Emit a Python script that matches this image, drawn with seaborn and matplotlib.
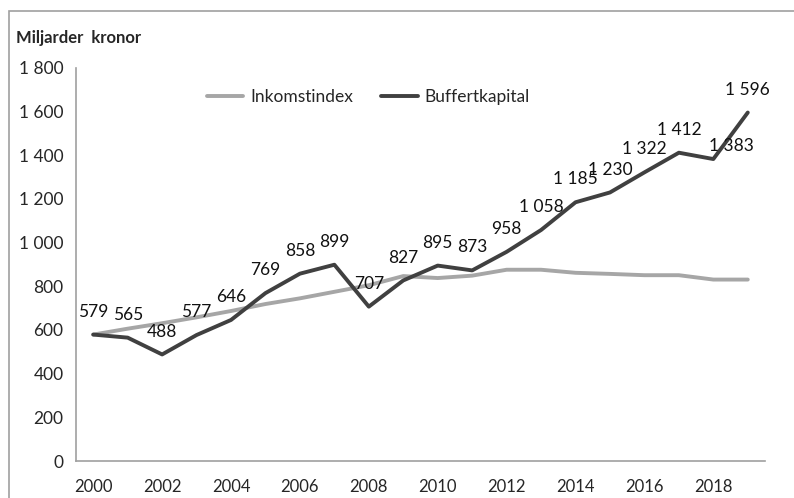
import numpy as np
import pandas as pd
import matplotlib
matplotlib.use("Agg")
import matplotlib.pyplot as plt
import seaborn as sns
from matplotlib.patches import Rectangle
from matplotlib.lines import Line2D
from matplotlib.ticker import FuncFormatter

# Dane
years = list(range(2000, 2020))
buffertkapital = [579, 565, 488, 577, 646, 769, 858, 899, 707, 827,
                  895, 873, 958, 1058, 1185, 1230, 1322, 1412, 1383, 1596]
inkomstindex = [579, 606, 631, 658, 687, 719, 745, 775, 805, 847,
                838, 849, 876, 876, 862, 857, 851, 851, 831, 831]
series_names = ["Inkomstindex", "Buffertkapital"]
y_ticks = [0, 200, 400, 600, 800, 1000, 1200, 1400, 1600, 1800]

df = pd.DataFrame({
    "idx": list(range(len(years))) * 2,
    "value": inkomstindex + buffertkapital,
    "serie": [series_names[0]] * len(years) + [series_names[1]] * len(years),
})

sns.set_style("white")
plt.rcParams["font.family"] = ["Lato", "DejaVu Sans"]


def sv(v, pos=None):
    return f"{int(v):,}".replace(",", " ")


fig = plt.figure(figsize=(7.94, 4.98), dpi=100)
ax = fig.add_axes([76 / 794, 37 / 498, 689 / 794, 393 / 498])

sns.lineplot(data=df, x="idx", y="value", hue="serie", ax=ax,
             palette={"Inkomstindex": "#a6a6a6", "Buffertkapital": "#404040"},
             linewidth=2.8, legend=False)

ax.set_xlim(-0.5, len(years) - 0.5)
ax.set_ylim(0, 1800)
ax.set_yticks(y_ticks)
ax.yaxis.set_major_formatter(FuncFormatter(sv))
ax.set_xticks(range(0, len(years), 2))
ax.set_xticklabels([str(y) for y in years[::2]])
ax.set_xticks(np.arange(-0.5, len(years), 1), minor=True)
ax.tick_params(axis="x", which="major", length=0, pad=13, labelsize=12)
ax.tick_params(axis="x", which="minor", length=4.5, width=1.2, color="#a0a0a0", direction="out")
ax.tick_params(axis="y", length=5.5, width=1.2, color="#a0a0a0", direction="out", pad=3.5, labelsize=12.5)
ax.set_xlabel("")
ax.set_ylabel("")
for s in ["top", "right"]:
    ax.spines[s].set_visible(False)
for s in ["left", "bottom"]:
    ax.spines[s].set_color("#a0a0a0")
    ax.spines[s].set_linewidth(1.2)

# Etykiety danych
nudge = {18: (13, -7)}
for i, v in enumerate(buffertkapital):
    dx, dy = nudge.get(i, (0, 0))
    ax.annotate(sv(v), (i, v), xytext=(dx, 16.5 + dy), textcoords="offset points",
                ha="center", va="center", fontsize=12.5, color="#111111")

# Legenda
handles = [Line2D([], [], color="#a6a6a6", lw=2.8),
           Line2D([], [], color="#404040", lw=2.8)]
fig.legend(handles, series_names, loc="center left",
           bbox_to_anchor=(207 / 794, 1 - 97 / 498), bbox_transform=fig.transFigure,
           ncol=2, frameon=False, fontsize=12.5, handlelength=2.1,
           handletextpad=0.4, columnspacing=1.6, borderpad=0, borderaxespad=0)

fig.text(16 / 794, 1 - 38 / 498, "Miljarder  kronor", fontsize=12,
         fontweight="bold", va="center", ha="left")

# Ramka wykresu
fig.patches.append(Rectangle((8.5 / 794, -0.1), 1.2, 1 - 11.5 / 498 + 0.1,
                             transform=fig.transFigure, fill=False,
                             edgecolor="#a0a0a0", linewidth=1.2))

fig.savefig("out.png", dpi=100)
